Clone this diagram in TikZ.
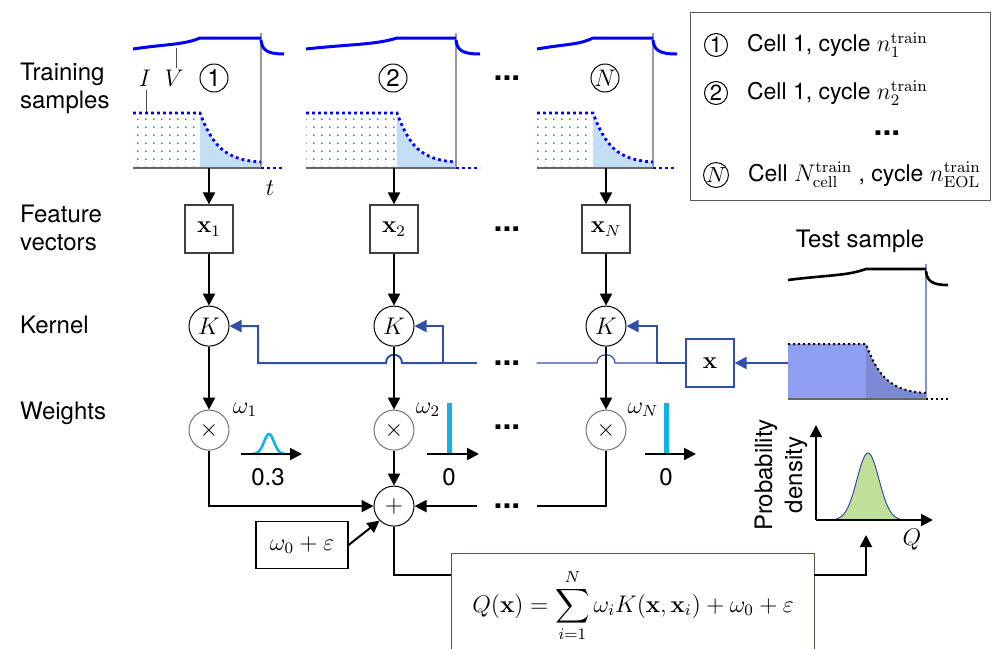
\documentclass[tikz,border=0pt]{standalone}
\usepackage{amsmath}
\usepackage[no-math]{fontspec}
\setmainfont{TeX Gyre Heros}
\usetikzlibrary{positioning, arrows.meta, patterns}

\definecolor{vblue}{RGB}{0,0,255}
\definecolor{linkblue}{RGB}{47,79,168}
\definecolor{spikecyan}{RGB}{20,176,232}
\definecolor{dotfill}{RGB}{60,140,230}
\definecolor{decayfill}{RGB}{196,222,246}
\definecolor{testfillA}{RGB}{143,158,240}
\definecolor{testfillB}{RGB}{124,138,214}
\definecolor{pdfgreen}{RGB}{192,224,154}
\definecolor{boxgreen}{RGB}{70,100,60}

\pgfdeclarepatternformonly{sparsedots}{\pgfpointorigin}{\pgfpoint{4pt}{4pt}}{\pgfpoint{4pt}{4pt}}{%
	\pgfpathcircle{\pgfpoint{1pt}{1pt}}{0.6pt}\pgfusepath{fill}}

% one charge/discharge record: start, knee, cut-off, end
\newcommand{\cyclecurves}[4]{%
	\fill[ifillA] (#1,113) rectangle (#2,168);
	\fill[ifillB] (#2,113) .. controls ({#2+0.2*(#3-#2)},145) and ({#2+0.4*(#3-#2)},160) .. (#3,162) -- (#3,168) -- (#2,168) -- cycle;
	\draw[taxis] (#1,168) -- (#3,168);
	\draw[tline] (#3,33) -- (#3,168);
	\draw[icurve] (#1,113) -- (#2,113) .. controls ({#2+0.2*(#3-#2)},145) and ({#2+0.4*(#3-#2)},160) .. (#3,162);
	\draw[icurve] (#3,168) -- (#4,168);
	\draw[vcurve] (#1,49) .. controls ({#1+0.5*(#2-#1)},44) and ({#2-0.25*(#2-#1)},45) .. (#2,38) -- (#3,38);
	\draw[vcurve] (#3,40) .. controls ({#3+1},50) and ({#3+6},54) .. (#4,54);
}

\begin{document}
\begin{tikzpicture}[
		x=0.5pt, y=-0.5pt,
		>={Triangle[length=6pt, width=6pt]},
		every node/.style={font=\fontsize{12}{14}\selectfont},
		rowlabel/.style={anchor=west, align=left},
		featbox/.style={draw=black!75, line width=0.6pt, minimum size=24pt, inner sep=0pt},
		opnode/.style={circle, draw, line width=0.5pt, minimum size=20pt, inner sep=0pt},
		mulnode/.style={opnode, draw=black!55},
		flow/.style={->, line width=1pt},
		link/.style={->, line width=1pt, color=linkblue},
		linkthin/.style={line width=0.6pt, color=linkblue},
		cnum/.style={circle, draw, line width=0.5pt, inner sep=0pt, minimum size=14pt},
		lgnum/.style={cnum, minimum size=11.5pt, font=\fontsize{11}{12}\selectfont},
		lgtext/.style={font=\fontsize{11.5}{14}\selectfont},
		ellip/.style={font=\bfseries\fontsize{16}{16}\selectfont, inner sep=0pt},
		gapdots/.style={ellip, inner xsep=8pt},
		vcurve/.style={vblue, line width=1.5pt},
		icurve/.style={vblue, line width=1.4pt, dash pattern=on 1.4pt off 1.6pt},
		ifillA/.style={pattern=sparsedots, pattern color=dotfill},
		ifillB/.style={fill=decayfill},
		taxis/.style={black!60, line width=0.6pt},
		tline/.style={black!40, line width=0.6pt},
		spike/.style={spikecyan, line width=2.5pt},
		bump/.style={spikecyan, line width=1.3pt}
		]
		\useasboundingbox (0,0) rectangle (993,649);
		
		% Row titles
		\node[rowlabel] (lbltrain) at (13,88) {Training\\samples};
		\node[rowlabel] (lblfeat) at (13,228) {Feature\\vectors};
		\node[rowlabel] (lblkern) at (13,325) {Kernel};
		\node[rowlabel] (lblweight) at (13,413) {Weights};
		
		% Training samples
		\cyclecurves{133}{200}{261}{284}
		\cyclecurves{306}{397}{456}{480}
		\cyclecurves{537}{593}{653}{677}
		\node (ilbl) at (145,78) {$I$};
		\draw[black!70, line width=0.5pt] (146,90) -- (146,112);
		\node (vlbl) at (174,78) {$V$};
		\draw[black!70, line width=0.5pt] (176,48) -- (176,68);
		\node (tlbl) at (270,188) {$t$};
		\node[cnum] (num1) at (214,78) {1};
		\node[cnum] (num2) at (393,78) {2};
		\node[cnum] (numN) at (605,78) {$N$};
		\node[ellip] (sdots) at (507,78) {...};
		
		% Feature vectors
		\node[featbox] (x1) at (209,229) {$\mathbf{x}_1$};
		\node[featbox] (x2) at (394,229) {$\mathbf{x}_2$};
		\node[featbox] (xN) at (606,229) {$\mathbf{x}_N$};
		\node[ellip] (fdots) at (507,229) {...};
		\coordinate (s1) at (209,168);
		\coordinate (s2) at (394,168);
		\coordinate (sN) at (606,168);
		\draw[flow] (s1) -- (x1);
		\draw[flow] (s2) -- (x2);
		\draw[flow] (sN) -- (xN);
		
		% Kernels
		\node[opnode, below=26pt of x1] (K1) {$K$};
		\node[opnode, below=26pt of x2] (K2) {$K$};
		\node[opnode, below=26pt of xN] (KN) {$K$};
		\draw[flow] (x1) -- (K1);
		\draw[flow] (x2) -- (K2);
		\draw[flow] (xN) -- (KN);
		
		% Test sample feeding every kernel
		\begin{scope}[shift={(0,231)},
			vcurve/.style={black, line width=1.3pt},
			icurve/.style={black, line width=1pt, dash pattern=on 1pt off 1.5pt},
			ifillA/.style={fill=testfillA},
			ifillB/.style={fill=testfillB},
			tline/.style={linkblue!60, line width=0.6pt}]
			\cyclecurves{788}{866}{926}{948}
		\end{scope}
		\node (testlbl) at (860,241) {Test sample};
		\node[featbox, draw=linkblue] (xtest) at (710,363) {$\mathbf{x}$};
		\coordinate (tin) at (788,363);
		\draw[link] (tin) -- (xtest);
		\node[gapdots] (kdots) at (507,363) {...};
		\coordinate (brN) at (657,363);
		\coordinate (br2) at (443,363);
		\coordinate (br1) at (258,363);
		\draw[link] (xtest.west) -- (brN) |- (KN.east);
		\draw[linkthin] (brN) -- (615,363) .. controls (615,352) and (597,352) .. (597,363) -- (kdots.east);
		\draw[linkthin] (kdots.west) -- (br2);
		\draw[link] (br2) |- (K2.east);
		\draw[link] (br2) -- (402,363) .. controls (402,352) and (386,352) .. (386,363) -- (br1) |- (K1.east);
		
		% Weights
		\node[mulnode, below=31.5pt of K1] (m1) {$\times$};
		\node[mulnode, below=31.5pt of K2] (m2) {$\times$};
		\node[mulnode, below=31.5pt of KN] (mN) {$\times$};
		\draw[flow] (K1) -- (m1);
		\draw[flow] (K2) -- (m2);
		\draw[flow] (KN) -- (mN);
		\node (w1) at (245,410) {$\omega_1$};
		\node (w2) at (428,410) {$\omega_2$};
		\node (wN) at (643,410) {$\omega_N$};
		\node[ellip] (wdots) at (507,427) {...};
		% weight distributions
		\draw[bump] plot[domain=253:285, samples=30] (\x,{454-20*exp(-0.5*((\x-269)/5)*((\x-269)/5))});
		\draw[spike] (449,453) -- (449,403);
		\draw[spike] (666,453) -- (666,403);
		\draw[flow] (241,454) -- (302,454);
		\draw[flow] (427,454) -- (479,454);
		\draw[flow] (645,454) -- (696,454);
		\node (wv1) at (268,477) {0.3};
		\node (wv2) at (449,477) {0};
		\node (wvN) at (666,477) {0};
		
		% Summation
		\node[opnode, below=17.5pt of m2] (sum) {$+$};
		\node[gapdots] (adots) at (sum -| 507,0) {...};
		\draw[flow] (m1) |- (sum);
		\draw[flow] (m2) -- (sum);
		\draw[line width=1pt] (mN) |- (adots.east);
		\draw[flow] (adots.west) -- (sum.east);
		\node[draw, line width=0.6pt, minimum width=46pt, minimum height=23.5pt] (bias) at (302,545) {$\omega_0 + \varepsilon$};
		\draw[flow] (bias.east) -- (sum.south west);
		
		% Model output
		\node[draw=boxgreen, line width=0.6pt, minimum width=181.5pt, minimum height=52pt, anchor=north west] (formula) at (451,553)
		{$\displaystyle Q(\mathbf{x}) = \sum_{i=1}^{N} \omega_i K(\mathbf{x},\mathbf{x}_i) + \omega_0 + \varepsilon$};
		\coordinate (fin) at (451,575);
		\coordinate (fout) at (814,575);
		\coordinate (pdfin) at (866,535);
		\draw[line width=1pt] (sum.south) |- (fin);
		\draw[flow] (fout) -| (pdfin);
		
		% Predictive distribution
		\fill[pdfgreen] plot[domain=836:900, samples=50] (\x,{520-67*exp(-0.5*((\x-868)/11)*((\x-868)/11))}) -- cycle;
		\draw[linkblue, line width=0.5pt] plot[domain=836:900, samples=50] (\x,{520-67*exp(-0.5*((\x-868)/11)*((\x-868)/11))});
		\draw[flow] (816,520) -- (816,425);
		\draw[flow] (816,520) -- (933,520);
		\node[rotate=90, align=center, font=\fontsize{12}{15}\selectfont] (pdflbl) at (781,475) {Probability\\density};
		\node (qlbl) at (912,540) {$Q$};
		
		% Legend
		\node[draw=black!65, line width=0.6pt, minimum width=150pt, minimum height=94pt, anchor=north west, inner sep=0pt] (legend) at (690,12) {};
		\node[lgnum] (lg1) at (716,45) {1};
		\node[lgtext, right=6pt of lg1] (lgt1) {Cell 1, cycle $n_1^{\mathrm{train}}$};
		\node[lgnum] (lg2) at (716,93) {2};
		\node[lgtext, right=6pt of lg2] (lgt2) {Cell 1, cycle $n_2^{\mathrm{train}}$};
		\node[ellip] (lgdots) at (887,133) {...};
		\node[lgnum] (lgN) at (716,175) {$N$};
		\node[lgtext, right=6pt of lgN] (lgtN) {Cell $N_{\mathrm{cell}}^{\mathrm{train}}$ , cycle $n_{\mathrm{EOL}}^{\mathrm{train}}$};
		
\end{tikzpicture}
\end{document}
